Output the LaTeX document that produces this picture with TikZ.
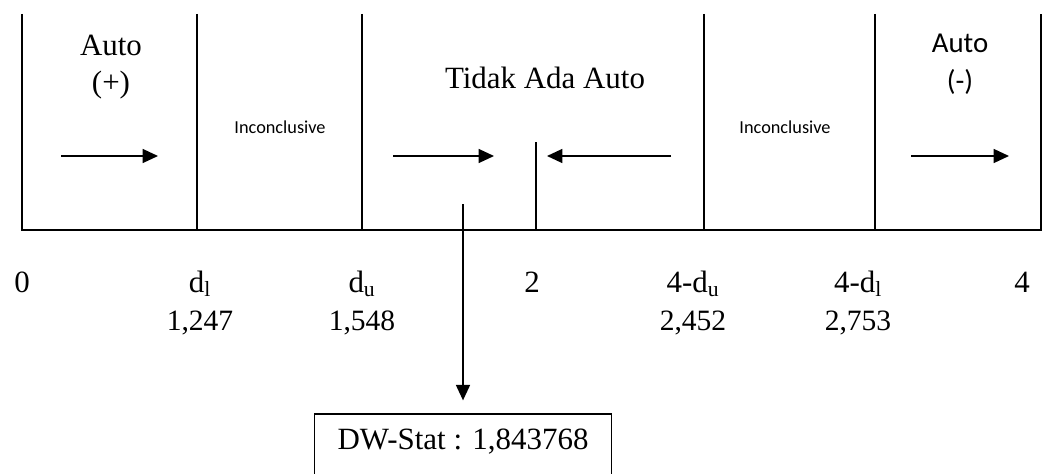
\documentclass[tikz,border=0pt]{standalone}
\usepackage{fontspec}
\setmainfont{Liberation Serif}
\newfontfamily\calibri{Carlito}
\usetikzlibrary{arrows.meta}

\begin{document}
\begin{tikzpicture}[x=0.025cm,y=-0.025cm,
    wall/.style={line width=1.1pt},
    push/.style={line width=1.1pt,-{Triangle[length=11pt,width=10pt]}},
    serif/.style={font=\fontsize{22}{26}\selectfont,anchor=base,inner sep=0pt},
    sans/.style={font=\calibri\fontsize{20.5}{24}\selectfont,anchor=base,inner sep=0pt},
    zone/.style={font=\calibri\fontsize{13}{15}\selectfont,anchor=base,inner sep=0pt},
    val/.style={font=\fontsize{21}{24}\selectfont,anchor=base,inner sep=0pt}]
  \useasboundingbox (0,0) rectangle (1043,473);
  \clip (0,0) rectangle (1043,473);

  % regions on the DW scale
  \draw[wall] (22,14) -- (22,230) -- (1041,230) -- (1041,14);
  \foreach \x in {197,362,704,875}
    \draw[wall] (\x,14) -- (\x,230);
  \draw[wall] (536,142) -- (536,230);

  % region names
  \node[serif] (autoP)   at (111,56)  {Auto};
  \node[serif] (autoPs)  at (111,92)  {(+)};
  \node[zone]  (inconL)  at (280,133) {Inconclusive};
  \node[serif] (noauto)  at (545,89)  {Tidak Ada Auto};
  \node[zone]  (inconR)  at (785,133) {Inconclusive};
  \node[sans]  (autoN)   at (960,53)  {Auto};
  \node[sans]  (autoNs)  at (960,91)  {(-)};

  % arrows inside the regions
  \coordinate (p1) at (61,156);  \coordinate (q1) at (158,156);
  \coordinate (p2) at (393,156); \coordinate (q2) at (494,156);
  \coordinate (p3) at (671,156); \coordinate (q3) at (547,156);
  \coordinate (p4) at (911,156); \coordinate (q4) at (1009,156);
  \draw[push] (p1) -- (q1);
  \draw[push] (p2) -- (q2);
  \draw[push] (p3) -- (q3);
  \draw[push] (p4) -- (q4);

  % critical values
  \node[serif] (zero) at (22,292)   {0};
  \node[serif] (dl)   at (200,292)  {d\textsubscript{l}};
  \node[serif] (du)   at (362,292)  {d\textsubscript{u}};
  \node[serif] (two)  at (532,292)  {2};
  \node[serif] (fdu)  at (693,292)  {4-d\textsubscript{u}};
  \node[serif] (fdl)  at (858,292)  {4-d\textsubscript{l}};
  \node[serif] (four) at (1022,292) {4};
  \node[val] (dlv)  at (200,330) {1,247};
  \node[val] (duv)  at (362,330) {1,548};
  \node[val] (fduv) at (693,330) {2,452};
  \node[val] (fdlv) at (858,330) {2,753};

  % statistic
  \node[draw,line width=1.1pt,anchor=north,minimum width=7.42cm,minimum height=1.8cm,
        text height=15pt,text depth=16pt,font=\fontsize{22}{26}\selectfont]
        (dwbox) at (463,413) {DW-Stat : 1,843768};
  \coordinate (dw) at (463,204);
  \draw[push,shorten >=9pt] (dw) -- (dwbox);
\end{tikzpicture}
\end{document}
